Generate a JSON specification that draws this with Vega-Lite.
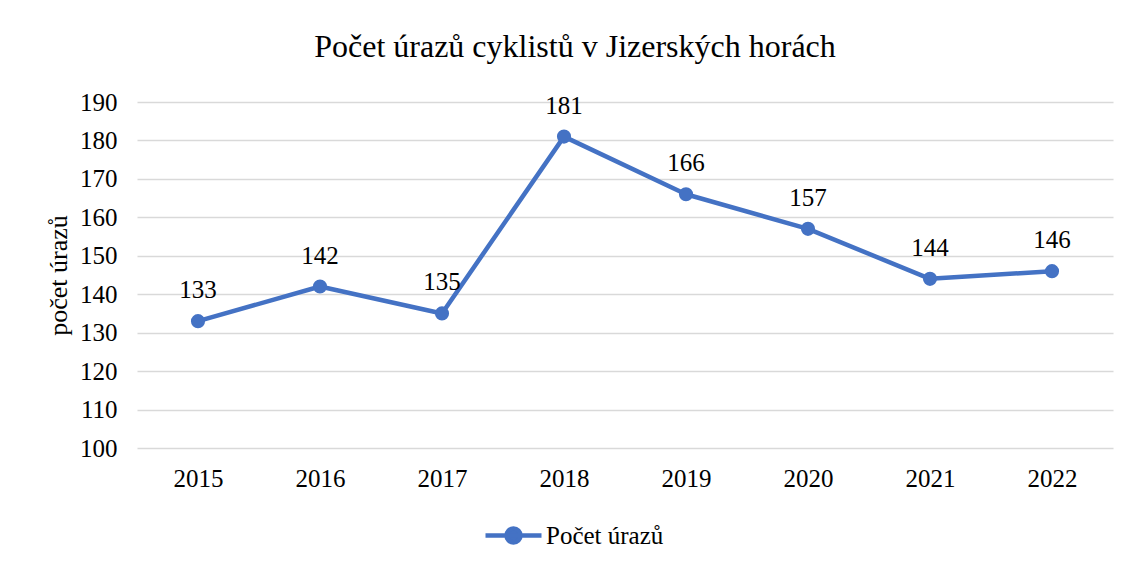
{
  "$schema": "https://vega.github.io/schema/vega-lite/v6.json",
  "autosize": "none",
  "width": 976,
  "height": 346,
  "padding": {"left": 137, "top": 102, "right": 19, "bottom": 117},
  "background": "white",
  "config": {
    "view": {"stroke": null},
    "font": "Liberation Serif",
    "text": {"font": "Liberation Serif"},
    "mark": {"font": "Liberation Serif"}
  },
  "title": {
    "text": "Počet úrazů cyklistů v Jizerských horách",
    "font": "Liberation Serif",
    "fontSize": 32,
    "fontWeight": "normal",
    "color": "#000000",
    "anchor": "middle",
    "dx": -50,
    "offset": 26
  },
  "data": {
    "values": [
      {"rok": "2015", "urazy": 133, "serie": "Počet úrazů"},
      {"rok": "2016", "urazy": 142, "serie": "Počet úrazů"},
      {"rok": "2017", "urazy": 135, "serie": "Počet úrazů"},
      {"rok": "2018", "urazy": 181, "serie": "Počet úrazů"},
      {"rok": "2019", "urazy": 166, "serie": "Počet úrazů"},
      {"rok": "2020", "urazy": 157, "serie": "Počet úrazů"},
      {"rok": "2021", "urazy": 144, "serie": "Počet úrazů"},
      {"rok": "2022", "urazy": 146, "serie": "Počet úrazů"}
    ]
  },
  "encoding": {
    "x": {
      "field": "rok",
      "type": "ordinal",
      "scale": {"type": "point", "padding": 0.5},
      "axis": {
        "title": null,
        "labelAngle": 0,
        "labelFont": "Liberation Serif",
        "labelFontSize": 25,
        "labelColor": "#000000",
        "labelPadding": 18,
        "domain": false,
        "ticks": false,
        "grid": false
      }
    },
    "y": {
      "field": "urazy",
      "type": "quantitative",
      "scale": {"domain": [100, 190], "nice": false, "zero": false},
      "axis": {
        "title": "počet úrazů",
        "titleFont": "Liberation Serif",
        "titleFontSize": 26,
        "titleFontWeight": "normal",
        "titleColor": "#000000",
        "titlePadding": 8,
        "values": [100, 110, 120, 130, 140, 150, 160, 170, 180, 190],
        "labelFont": "Liberation Serif",
        "labelFontSize": 25,
        "labelColor": "#000000",
        "labelPadding": 20,
        "domain": false,
        "ticks": false,
        "grid": true,
        "gridColor": "#d9d9d9",
        "gridWidth": 1.3
      }
    }
  },
  "layer": [
    {
      "mark": {"type": "line", "strokeWidth": 4.5, "strokeCap": "round", "strokeJoin": "round"},
      "encoding": {
        "color": {
          "field": "serie",
          "type": "nominal",
          "scale": {"range": ["#4472C4"]},
          "legend": {
            "title": null,
            "orient": "none",
            "legendX": 346,
            "legendY": 403,
            "symbolType": "M-1,0H1M-0.25,0A0.25,0.25 0 1,0 0.25,0A0.25,0.25 0 1,0 -0.25,0Z",
            "symbolSize": 3136,
            "symbolStrokeWidth": 4.5,
            "symbolFillColor": "#4472C4",
            "symbolStrokeColor": "#4472C4",
            "labelFont": "Liberation Serif",
            "labelFontSize": 25,
            "labelColor": "#000000",
            "labelOffset": 2,
            "padding": 0
          }
        }
      }
    },
    {
      "mark": {"type": "point", "filled": true, "size": 200, "opacity": 1, "color": "#4472C4"}
    },
    {
      "mark": {"type": "text", "font": "Liberation Serif", "fontSize": 25, "fill": "#000000", "baseline": "middle", "dy": -31},
      "encoding": {"text": {"field": "urazy", "type": "nominal"}}
    }
  ]
}
